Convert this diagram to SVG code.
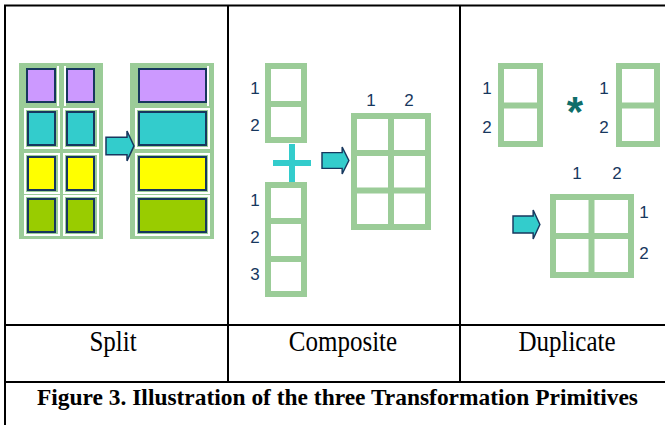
<svg xmlns="http://www.w3.org/2000/svg" width="665" height="425" viewBox="0 0 665 425">
  <style>
    .rule { stroke: #000; stroke-width: 2; fill: none; }
    .frame { fill: none; stroke: #9BCC98; stroke-width: 6; }
    .bar { stroke: #9BCC98; stroke-width: 6; }
    .pad { fill: #9BCC98; }
    .gap { fill: none; stroke: #fff; stroke-width: 2; }
    .cell { stroke: #17375E; stroke-width: 2; }
    .arrow { fill: #33CCCC; stroke: #17375E; stroke-width: 1.5; stroke-linejoin: miter; }
    .num { font-family: "Liberation Sans", Arial, sans-serif; font-size: 17px; fill: #17375E; text-anchor: middle; }
    .head { font-family: "Liberation Serif", "Times New Roman", serif; font-size: 25px; fill: #000; text-anchor: middle; }
    .caption { font-family: "Liberation Serif", "Times New Roman", serif; font-weight: bold; font-size: 21px; fill: #000; }
  </style>
  <defs>
    <path id="arrowShape" d="M0,6 H21 V0 L28,14.5 L21,29 V23 H0 Z"/>
  </defs>
  <rect width="665" height="425" fill="#fff"/>

  <!-- table rules -->
  <g id="table">
    <line class="rule" x1="4" y1="5.5" x2="665" y2="5.5"/>
    <line class="rule" x1="5" y1="5" x2="5" y2="425"/>
    <line class="rule" x1="228" y1="5" x2="228" y2="382"/>
    <line class="rule" x1="460" y1="5" x2="460" y2="382"/>
    <line class="rule" x1="5" y1="325" x2="665" y2="325"/>
    <line class="rule" x1="5" y1="382" x2="665" y2="382"/>
  </g>

  <!-- Split: two narrow columns become one wide column -->
  <g id="split-source">
    <rect class="pad" x="19" y="63" width="84" height="176"/>
    <rect class="gap" x="25" y="109" width="34" height="39"/>
    <rect class="gap" x="64" y="109" width="34" height="39"/>
    <rect class="gap" x="25" y="154" width="34" height="39"/>
    <rect class="gap" x="64" y="154" width="34" height="39"/>
    <rect class="gap" x="25" y="196" width="34" height="39"/>
    <rect class="gap" x="64" y="196" width="34" height="39"/>
    <line class="gap" x1="58" y1="66" x2="58" y2="106"/>
    <line class="gap" x1="65" y1="66" x2="65" y2="106"/>
    <rect class="cell" x="27" y="69" width="28" height="33" fill="#CC99FF"/>
    <rect class="cell" x="67" y="69" width="27" height="33" fill="#CC99FF"/>
    <rect class="cell" x="28" y="112" width="27" height="33" fill="#33CCCC"/>
    <rect class="cell" x="67" y="112" width="27" height="33" fill="#33CCCC"/>
    <rect class="cell" x="28" y="157" width="27" height="33" fill="#FFFF00"/>
    <rect class="cell" x="67" y="157" width="27" height="33" fill="#FFFF00"/>
    <rect class="cell" x="28" y="199" width="27" height="33" fill="#99CC00"/>
    <rect class="cell" x="67" y="199" width="27" height="33" fill="#99CC00"/>
  </g>
  <g id="split-result">
    <rect class="pad" x="130" y="63" width="84" height="176"/>
    <rect class="gap" x="136" y="109" width="73" height="39"/>
    <rect class="gap" x="136" y="154" width="73" height="39"/>
    <rect class="gap" x="136" y="196" width="73" height="39"/>
    <line class="gap" x1="208" y1="66" x2="208" y2="106"/>
    <rect class="cell" x="139" y="69" width="67" height="33" fill="#CC99FF"/>
    <rect class="cell" x="139" y="112" width="67" height="33" fill="#33CCCC"/>
    <rect class="cell" x="139" y="157" width="67" height="33" fill="#FFFF00"/>
    <rect class="cell" x="139" y="199" width="67" height="33" fill="#99CC00"/>
  </g>

  <!-- Composite: a 2-row and a 3-row column combine into a 3x2 grid -->
  <g id="composite-top">
    <rect class="frame" x="268" y="66" width="36" height="74"/>
    <line class="bar" x1="265" y1="104" x2="307" y2="104"/>
    <text class="num" x="255" y="94">1</text>
    <text class="num" x="255" y="131">2</text>
  </g>
  <g id="composite-plus" fill="#33CCCC">
    <rect x="289" y="144" width="6" height="38"/>
    <rect x="273" y="160" width="38" height="6"/>
  </g>
  <g id="composite-bottom">
    <rect class="frame" x="268" y="185" width="36" height="109"/>
    <line class="bar" x1="265" y1="221" x2="307" y2="221"/>
    <line class="bar" x1="265" y1="259" x2="307" y2="259"/>
    <text class="num" x="255" y="206">1</text>
    <text class="num" x="255" y="243">2</text>
    <text class="num" x="255" y="280">3</text>
  </g>
  <g id="composite-result">
    <rect class="frame" x="354" y="116" width="74" height="111"/>
    <line class="bar" x1="391" y1="113" x2="391" y2="230"/>
    <line class="bar" x1="351" y1="153" x2="431" y2="153"/>
    <line class="bar" x1="351" y1="190.5" x2="431" y2="190.5"/>
    <text class="num" x="371" y="106">1</text>
    <text class="num" x="409" y="106">2</text>
  </g>

  <!-- Duplicate: two 2-row columns crossed into a 2x2 grid -->
  <g id="duplicate-left">
    <rect class="frame" x="501" y="66" width="39" height="78"/>
    <line class="bar" x1="498" y1="105.5" x2="543" y2="105.5"/>
    <text class="num" x="487" y="94">1</text>
    <text class="num" x="487" y="133">2</text>
  </g>
  <g id="duplicate-times">
    <text x="575" y="126" font-family="'Liberation Sans', Arial, sans-serif" font-size="42" font-weight="bold" fill="#0F6E6A" text-anchor="middle">*</text>
  </g>
  <g id="duplicate-right">
    <rect class="frame" x="619" y="66" width="38" height="78"/>
    <line class="bar" x1="616" y1="105.5" x2="660" y2="105.5"/>
    <text class="num" x="604" y="94">1</text>
    <text class="num" x="604" y="133">2</text>
  </g>
  <g id="duplicate-result">
    <rect class="frame" x="553" y="197" width="78" height="78"/>
    <line class="bar" x1="591.5" y1="194" x2="591.5" y2="278"/>
    <line class="bar" x1="550" y1="236" x2="634" y2="236"/>
    <text class="num" x="577" y="179">1</text>
    <text class="num" x="617" y="179">2</text>
    <text class="num" x="644" y="218">1</text>
    <text class="num" x="644" y="259">2</text>
  </g>

  <!-- transformation arrows -->
  <g id="connectors">
    <use href="#arrowShape" class="arrow" transform="translate(106,131) scale(1,1.03)"/>
    <use href="#arrowShape" class="arrow" transform="translate(322,147) scale(0.96,0.93)"/>
    <use href="#arrowShape" class="arrow" transform="translate(513,210) scale(0.96,1)"/>
  </g>

  <!-- column headings and caption (type set slightly tall) -->
  <g id="labels">
    <g transform="translate(0,351) scale(1,1.18)">
      <text class="head" x="113" y="0">Split</text>
      <text class="head" x="343" y="0">Composite</text>
      <text class="head" x="567" y="0">Duplicate</text>
    </g>
    <g transform="translate(0,405) scale(1,1.1)">
      <text class="caption" x="37" y="0" textLength="601" lengthAdjust="spacingAndGlyphs">Figure 3. Illustration of the three Transformation Primitives</text>
    </g>
  </g>
</svg>
